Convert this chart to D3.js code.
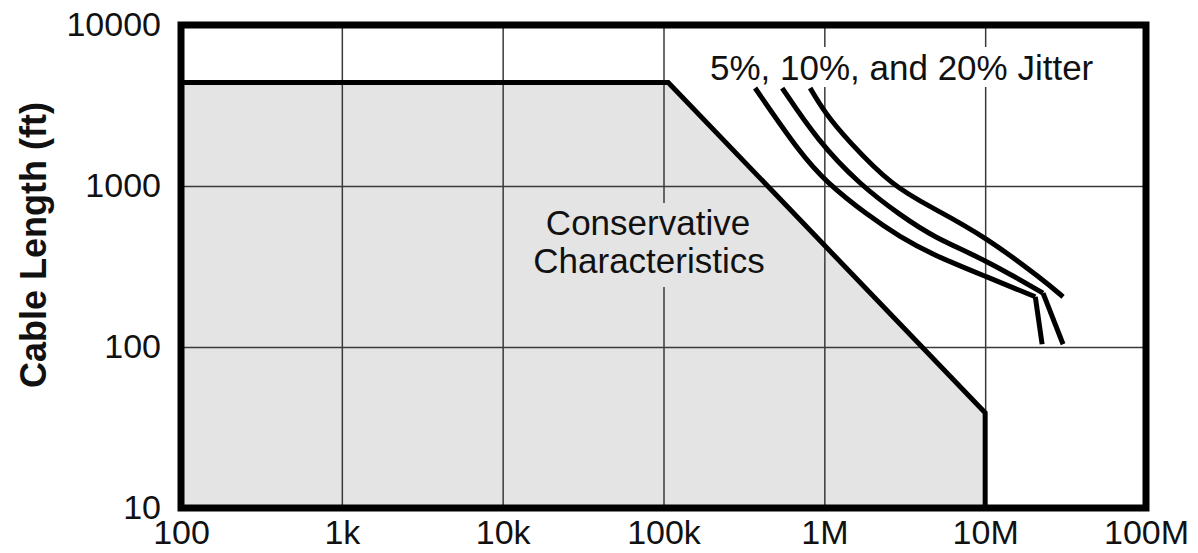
<!DOCTYPE html>
<html>
<head>
<meta charset="utf-8">
<script src="https://cdn.jsdelivr.net/npm/d3@7"></script>
<style>
  body { margin: 0; background: #fff; }
  text { font-family: "Liberation Sans", Arial, sans-serif; fill: #111; }
</style>
</head>
<body>
<div id="chart"></div>
<script>
// axis ticks
const xTicks = [100, 1e3, 1e4, 1e5, 1e6, 1e7, 1e8];
const xTickLabels = ["100", "1k", "10k", "100k", "1M", "10M", "100M"];
const yTicks = [10, 100, 1000, 10000];
const yTickLabels = ["10", "100", "1000", "10000"];

// conservative region outline (data rate, cable length)
const conservative = [[100, 4400], [107e3, 4400], [10e6, 39], [10e6, 10]];

// jitter curves
const jitter5 = [[371e3, 4060], [706e3, 1600], [1.04e6, 1044], [1.85e6, 661], [2.96e6, 482], [4.75e6, 373], [10.3e6, 272], [20.5e6, 205]];
const jitter5Drop = [[20.5e6, 205], [22.6e6, 104]];
const jitter10 = [[547e3, 4060], [902e3, 1931], [1.67e6, 1014], [2.96e6, 661], [4.75e6, 482], [10.1e6, 347], [22.9e6, 216]];
const jitter10Drop = [[22.9e6, 216], [30.5e6, 104]];
const jitter20 = [[816e3, 4060], [1.01e6, 2840], [1.39e6, 1931], [2.68e6, 986], [4.75e6, 730], [10.1e6, 482], [22.9e6, 261], [30.5e6, 205]];

const W = 1198, H = 553;
const mLeft = 181, mRight = 1146, mTop = 25, mBottom = 508;

const svg = d3.select("#chart").append("svg")
  .attr("width", W).attr("height", H)
  .attr("viewBox", [0, 0, W, H]);

const x = d3.scaleLog().domain([100, 1e8]).range([mLeft, mRight]);
const y = d3.scaleLog().domain([10, 1e4]).range([mBottom, mTop]);

// shaded conservative area
const area = conservative.concat([[100, 10]]);
svg.append("path")
  .attr("d", d3.line().x(d => x(d[0])).y(d => y(d[1]))(area) + "Z")
  .attr("fill", "#e4e4e4");

// grid lines
svg.append("g")
  .attr("transform", `translate(0,${mBottom})`)
  .call(d3.axisBottom(x).tickValues(xTicks).tickSize(-(mBottom - mTop)).tickFormat(""))
  .call(g => g.select(".domain").remove())
  .call(g => g.selectAll("line").attr("stroke", "#3a3a3a").attr("stroke-width", 1.5));
svg.append("g")
  .attr("transform", `translate(${mLeft},0)`)
  .call(d3.axisLeft(y).tickValues(yTicks).tickSize(-(mRight - mLeft)).tickFormat(""))
  .call(g => g.select(".domain").remove())
  .call(g => g.selectAll("line").attr("stroke", "#3a3a3a").attr("stroke-width", 1.5));

// label backgrounds that hide the grid
svg.append("rect").attr("x", 700).attr("y", 47).attr("width", 405).attr("height", 40).attr("fill", "#fff");
svg.append("rect").attr("x", 528).attr("y", 203).attr("width", 242).attr("height", 84).attr("fill", "#e4e4e4");

// conservative outline
svg.append("path")
  .attr("d", d3.line().x(d => x(d[0])).y(d => y(d[1]))(conservative))
  .attr("fill", "none").attr("stroke", "#000").attr("stroke-width", 5)
  .attr("stroke-linejoin", "miter");

// jitter curves
const smooth = d3.line().x(d => x(d[0])).y(d => y(d[1])).curve(d3.curveBasis);
const straight = d3.line().x(d => x(d[0])).y(d => y(d[1]));
[jitter5, jitter10, jitter20].forEach(c => {
  svg.append("path").attr("d", smooth(c))
    .attr("fill", "none").attr("stroke", "#000").attr("stroke-width", 5);
});
[jitter5Drop, jitter10Drop].forEach(c => {
  svg.append("path").attr("d", straight(c))
    .attr("fill", "none").attr("stroke", "#000").attr("stroke-width", 5);
});

// frame
svg.append("rect")
  .attr("x", mLeft).attr("y", mTop)
  .attr("width", mRight - mLeft).attr("height", mBottom - mTop)
  .attr("fill", "none").attr("stroke", "#000").attr("stroke-width", 7);

// tick labels
svg.append("g")
  .attr("transform", `translate(0,${mBottom})`)
  .call(d3.axisBottom(x).tickValues(xTicks).tickSize(0).tickPadding(12)
    .tickFormat((d, i) => xTickLabels[i]))
  .call(g => g.select(".domain").remove())
  .call(g => g.selectAll("text").attr("font-size", 34).attr("fill", "#111")
    .attr("font-family", '"Liberation Sans", Arial, sans-serif'));
svg.append("g")
  .attr("transform", `translate(${mLeft},0)`)
  .call(d3.axisLeft(y).tickValues(yTicks).tickSize(0).tickPadding(20)
    .tickFormat((d, i) => yTickLabels[i]))
  .call(g => g.select(".domain").remove())
  .call(g => g.selectAll("text").attr("font-size", 34).attr("fill", "#111")
    .attr("font-family", '"Liberation Sans", Arial, sans-serif'));

// axis title
svg.append("text")
  .attr("transform", "translate(46,245) rotate(-90)")
  .attr("text-anchor", "middle")
  .attr("font-size", 36).attr("font-weight", "bold")
  .text("Cable Length (ft)");

// annotations
svg.append("text").attr("x", 710).attr("y", 80)
  .attr("font-size", 35).text("5%, 10%, and 20% Jitter");
svg.append("text").attr("x", 648).attr("y", 235).attr("text-anchor", "middle")
  .attr("font-size", 35).text("Conservative");
svg.append("text").attr("x", 649).attr("y", 273).attr("text-anchor", "middle")
  .attr("font-size", 35).text("Characteristics");
</script>
</body>
</html>
